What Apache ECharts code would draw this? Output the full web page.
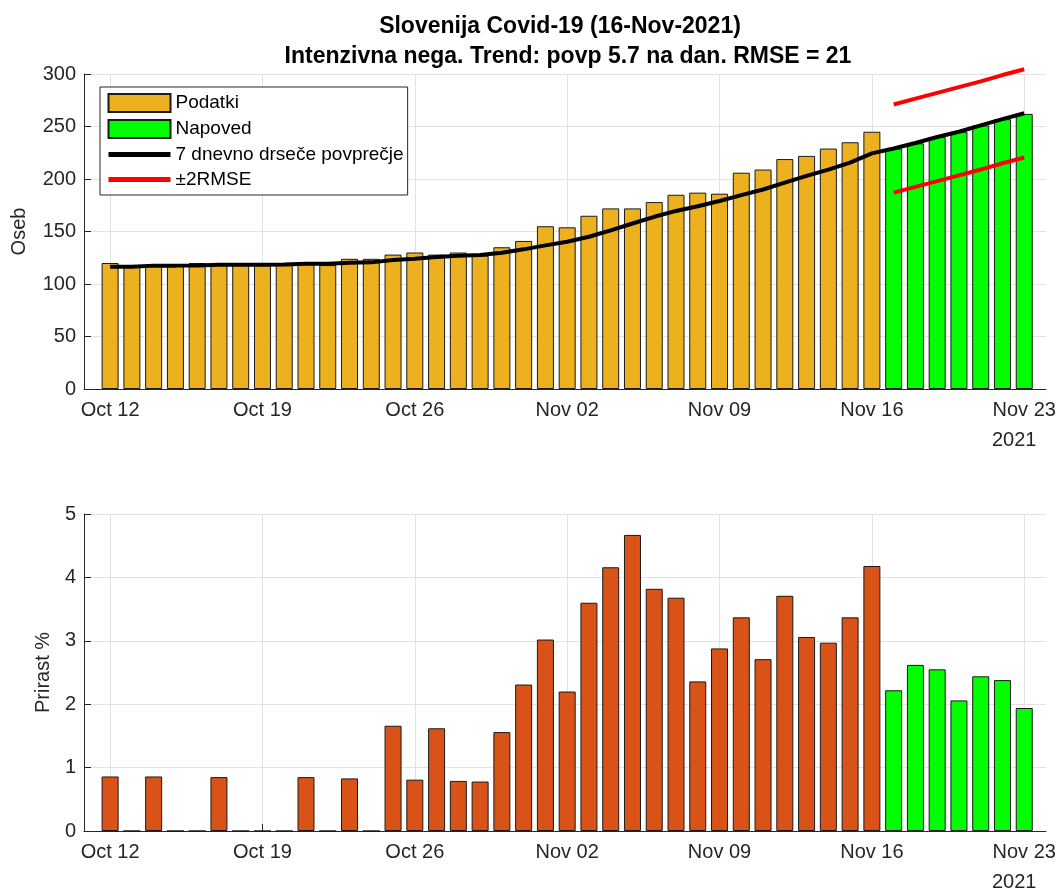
<!DOCTYPE html>
<html><head><meta charset="utf-8">
<script src="https://cdn.jsdelivr.net/npm/echarts@6/dist/echarts.min.js"></script>
<style>html,body{margin:0;padding:0;background:#fff}#c{width:1062px;height:892px}</style>
</head><body><div id="c"></div>
<script>
// Days from Oct 12 to Nov 23, 2021 (index 0..42)
const dayLabels = ['Oct 12','Oct 13','Oct 14','Oct 15','Oct 16','Oct 17','Oct 18','Oct 19','Oct 20','Oct 21',
  'Oct 22','Oct 23','Oct 24','Oct 25','Oct 26','Oct 27','Oct 28','Oct 29','Oct 30','Oct 31',
  'Nov 01','Nov 02','Nov 03','Nov 04','Nov 05','Nov 06','Nov 07','Nov 08','Nov 09','Nov 10',
  'Nov 11','Nov 12','Nov 13','Nov 14','Nov 15','Nov 16',
  'Nov 17','Nov 18','Nov 19','Nov 20','Nov 21','Nov 22','Nov 23'];
const tickDays = [0, 7, 14, 21, 28, 35, 42];
const tickLabels = ['Oct 12','Oct 19','Oct 26','Nov 02','Nov 09','Nov 16','Nov 23'];
const yearLabel = '2021';

// Top panel: patients in intensive care
const observed = [120,117,118,118,120,119,118,118,118,119,118,124,124,128,130,128,130,127,135,141,
  155,154,165,172,172,178,185,187,186,206,209,219,222,229,235,245];
const forecast = [229,234,240,245,251,257,262];
const movingAvg = [116.4,116.5,117.5,117.5,117.7,118.3,118.4,118.4,118.5,119.2,119.4,120.3,120.6,122.8,124,125.8,126.8,127.6,129.8,133,
  136.8,140.2,145,151,157.6,164,169.6,174,179,184.6,190,196.6,203,209,215.6,224.4,
  229,234.3,240,245,251,257,262.6];
const upperBand = [271,276.5,282,287.5,293,299,304.5];
const lowerBand = [187,192.5,198,203.5,209,215,220.5];

// Bottom panel: daily growth %
const growthObserved = [0.86,0,0.86,0,0,0.85,0,0,0,0.85,0,0.83,0,1.66,0.81,1.62,0.79,0.78,1.56,2.31,
  3.02,2.20,3.60,4.16,4.67,3.82,3.68,2.36,2.88,3.37,2.71,3.71,3.06,2.97,3.37,4.18];
const growthForecast = [2.22,2.62,2.55,2.06,2.44,2.38,1.94];

const titleLine1 = 'Slovenija Covid-19 (16-Nov-2021)';
const titleLine2 = 'Intenzivna nega. Trend: povp 5.7 na dan. RMSE = 21';

const nObs = observed.length;
const pts = (arr, off) => arr.map((v, i) => [i + off, v]);

const AX = '#262626';
const GRID = '#e2e2e2';
const FONT = 'Liberation Sans, Arial, sans-serif';

function xAxisCfg(gi) {
  return {
    type: 'value', gridIndex: gi, min: -1.2, max: 43,
    axisLine: {show: true, onZero: false, lineStyle: {color: AX, width: 1}},
    axisTick: {show: true, inside: true, length: 7, customValues: tickDays, lineStyle: {color: AX}},
    axisLabel: {
      customValues: tickDays, margin: 10, color: AX, fontFamily: FONT, fontSize: 20,
      formatter: v => {
        const k = tickDays.indexOf(Math.round(v));
        const t = k >= 0 ? tickLabels[k] : '';
        return k === tickDays.length - 1 ? '{a|' + t + '}\n{b|' + yearLabel + '}' : '{a|' + t + '}';
      },
      rich: {
        a: {fontSize: 20, fontFamily: FONT, color: AX, lineHeight: 22},
        b: {fontSize: 20, fontFamily: FONT, color: AX, lineHeight: 38, padding: [0, 20, 0, 0]}
      }
    },
    splitLine: {show: true, lineStyle: {color: GRID, width: 1}}
  };
}
function yAxisCfg(gi, max, interval, name, nameGap) {
  return {
    type: 'value', gridIndex: gi, min: 0, max: max, interval: interval,
    name: name, nameLocation: 'middle', nameGap: nameGap,
    nameTextStyle: {fontSize: 20, fontFamily: FONT, color: AX},
    axisLine: {show: true, onZero: false, lineStyle: {color: AX, width: 1}},
    axisTick: {show: true, inside: true, length: 7, lineStyle: {color: AX}},
    axisLabel: {color: AX, fontFamily: FONT, fontSize: 20, margin: 8},
    splitLine: {show: true, lineStyle: {color: GRID, width: 1}}
  };
}
const barBorder = {borderColor: '#1a1a1a', borderWidth: 1};

const option = {
  backgroundColor: '#fff',
  animation: false,
  title: [
    {text: titleLine1, left: 555, top: 10, textAlign: 'center',
     textStyle: {fontSize: 23, fontWeight: 'bold', fontFamily: FONT, color: '#000'}},
    {text: titleLine2, left: 563, top: 40, textAlign: 'center',
     textStyle: {fontSize: 23, fontWeight: 'bold', fontFamily: FONT, color: '#000'}}
  ],
  legend: {
    left: 100, top: 87, orient: 'vertical',
    backgroundColor: '#fff', borderColor: AX, borderWidth: 1,
    padding: [6, 4, 6, 6], itemGap: 6, itemWidth: 62, itemHeight: 18,
    textStyle: {fontSize: 19, fontFamily: FONT, color: '#000'},
    data: [
      {name: 'Podatki', icon: 'rect'},
      {name: 'Napoved', icon: 'rect'},
      {name: '7 dnevno drseče povprečje', itemStyle: {opacity: 0}, lineStyle: {width: 5}},
      {name: '±2RMSE', itemStyle: {opacity: 0}, lineStyle: {width: 5}}
    ]
  },
  grid: [
    {left: 84, right: 16, top: 74, height: 315},
    {left: 84, right: 16, top: 514, height: 319}
  ],
  xAxis: [xAxisCfg(0), xAxisCfg(1)],
  yAxis: [yAxisCfg(0, 300, 50, 'Oseb', 55), yAxisCfg(1, 5, 1, 'Prirast %', 30)],
  series: [
    {name: 'Podatki', type: 'bar', xAxisIndex: 0, yAxisIndex: 0, stack: 'top', barWidth: 17,
     itemStyle: Object.assign({color: '#EDB120'}, barBorder), data: pts(observed, 0)},
    {name: 'Napoved', type: 'bar', xAxisIndex: 0, yAxisIndex: 0, stack: 'top', barWidth: 17,
     itemStyle: Object.assign({color: '#00FF00'}, barBorder), data: pts(forecast, nObs)},
    {name: '7 dnevno drseče povprečje', type: 'line', xAxisIndex: 0, yAxisIndex: 0, symbol: 'none',
     z: 5, lineStyle: {color: '#000', width: 4}, itemStyle: {color: '#000'}, data: pts(movingAvg, 0)},
    {name: '±2RMSE', type: 'line', xAxisIndex: 0, yAxisIndex: 0, symbol: 'none', clip: false,
     z: 5, lineStyle: {color: '#FF0000', width: 4}, itemStyle: {color: '#FF0000'}, data: pts(upperBand, nObs)},
    {name: '±2RMSE', type: 'line', xAxisIndex: 0, yAxisIndex: 0, symbol: 'none', clip: false,
     z: 5, lineStyle: {color: '#FF0000', width: 4}, itemStyle: {color: '#FF0000'}, data: pts(lowerBand, nObs)},
    {name: 'Prirast', type: 'bar', xAxisIndex: 1, yAxisIndex: 1, stack: 'bottom', barWidth: 17,
     itemStyle: Object.assign({color: '#D95319'}, barBorder), data: pts(growthObserved, 0)},
    {name: 'Prirast napoved', type: 'bar', xAxisIndex: 1, yAxisIndex: 1, stack: 'bottom', barWidth: 17,
     itemStyle: Object.assign({color: '#00FF00'}, barBorder), data: pts(growthForecast, nObs)}
  ]
};
const chart = echarts.init(document.getElementById('c'), null, {renderer: 'canvas'});
chart.setOption(option);
</script>
</body></html>
